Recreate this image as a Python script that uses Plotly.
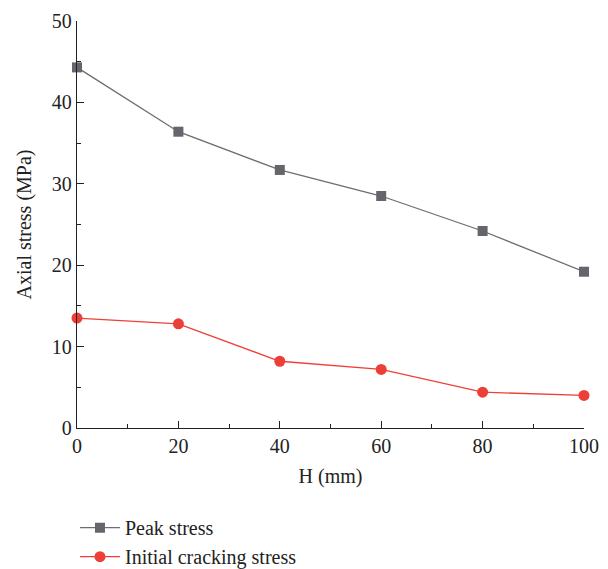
import plotly.graph_objects as go

# Spacer height H (mm) and measured axial stresses (MPa)
h_mm = [0, 20, 40, 60, 80, 100]
peak_stress = [44.3, 36.4, 31.7, 28.5, 24.2, 19.2]
initial_cracking_stress = [13.5, 12.8, 8.2, 7.2, 4.4, 4.0]

x_ticks = [0, 20, 40, 60, 80, 100]
y_ticks = [0, 10, 20, 30, 40, 50]

FONT = "Liberation Serif, Times New Roman, serif"
INK = "#222222"

fig = go.Figure()
fig.add_trace(go.Scatter(
    x=h_mm, y=peak_stress, name="Peak stress",
    mode="lines+markers",
    line=dict(color="#6e6e72", width=1.3),
    marker=dict(symbol="square", size=10, color="#65656b"),
    cliponaxis=False,
))
fig.add_trace(go.Scatter(
    x=h_mm, y=initial_cracking_stress, name="Initial cracking stress",
    mode="lines+markers",
    line=dict(color="#ee4038", width=1.3),
    marker=dict(symbol="circle", size=11, color="#ec3f37"),
    cliponaxis=False,
))

axis_common = dict(
    showgrid=False, zeroline=False,
    showline=True, linecolor=INK, linewidth=1.3,
    ticks="inside", ticklen=7, tickwidth=1.2, tickcolor=INK,
    tickfont=dict(family=FONT, size=20, color=INK),
    title_font=dict(family=FONT, size=20, color=INK),
)

fig.update_xaxes(
    range=[0, 100], tickvals=x_ticks, ticktext=[str(v) for v in x_ticks],
    title_text="H (mm)", title_standoff=12,
    minor=dict(ticks="inside", ticklen=4, dtick=10, tick0=0,
               tickcolor=INK, tickwidth=1.2),
    **axis_common,
)
fig.update_yaxes(
    range=[0, 50], tickvals=y_ticks, ticktext=[str(v) for v in y_ticks],
    title_text="Axial stress (MPa)", title_standoff=14,
    minor=dict(ticks="inside", ticklen=4, dtick=5, tick0=0,
               tickcolor=INK, tickwidth=1.2),
    **axis_common,
)

fig.update_layout(
    width=608, height=569,
    margin=dict(l=77, r=24, t=21, b=141, autoexpand=False),
    plot_bgcolor="white", paper_bgcolor="white",
    showlegend=True,
    legend=dict(
        x=-0.004, y=-0.197,
        xanchor="left", yanchor="top",
        orientation="v",
        font=dict(family=FONT, size=20, color=INK),
        bgcolor="rgba(0,0,0,0)",
        itemwidth=40, tracegroupgap=0,
    ),
)

fig.write_html("out.html")
